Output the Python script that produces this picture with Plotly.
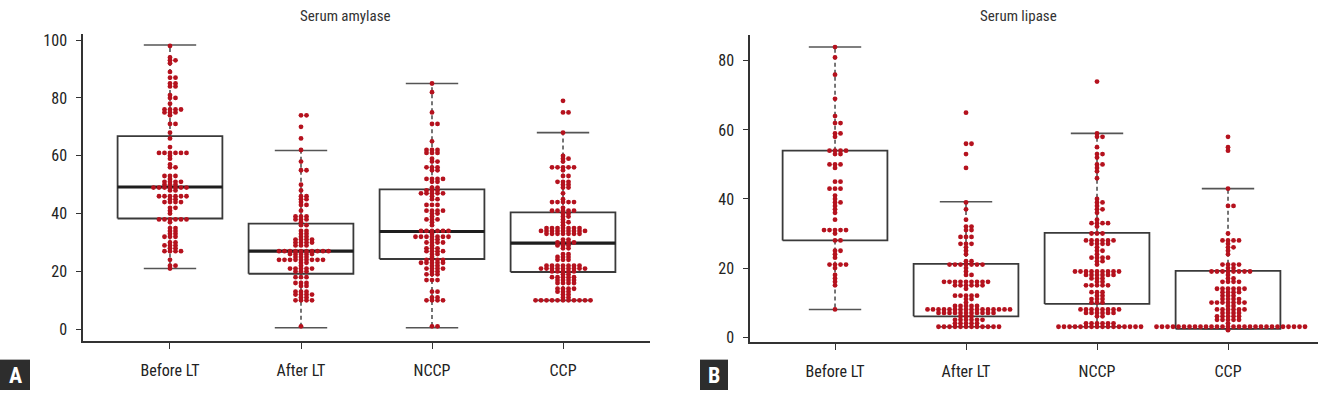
import math
import plotly.graph_objects as go

W, H = 1318, 395

categories = ["Before LT", "After LT", "NCCP", "CCP"]

# ---------------- Serum amylase (panel A) ----------------
amylase_before = [98, 94, 93, 93, 92, 89, 87, 87, 85, 85, 84, 84, 81, 80, 80, 78,
                  76, 76, 76, 76, 75, 75, 75, 74, 71, 71, 68, 66, 63,
                  61, 61, 61, 61, 61, 61, 60, 59, 57, 56, 56, 53, 53, 53, 52,
                  51, 51, 51, 51, 50, 50, 50, 49, 49, 49, 49, 49, 49, 49, 48, 48,
                  46, 46, 46, 46, 46, 46, 45, 45, 44, 44, 44, 44, 42, 42, 41, 40,
                  38, 38, 38, 38, 38, 38, 37, 35, 35, 34, 34, 33, 33, 32, 32, 32,
                  30, 30, 29, 29, 29, 28, 28, 27, 27, 27, 27, 24, 22, 22, 21]
amylase_after = [74, 74, 70, 66, 62, 58, 55, 55, 50, 48, 46, 46, 45, 45, 44, 43, 43,
                 41, 39, 39, 39, 38, 38, 38, 37, 36, 36, 34, 34, 33, 33, 32, 32,
                 31, 31, 31, 31, 30, 30, 30, 30, 29, 29, 29,
                 27, 27, 27, 27, 27, 27, 27, 27, 27, 27, 26, 26, 26, 26, 26,
                 25, 25, 25, 24, 24, 24, 24, 24, 24, 24, 24, 24, 23, 23, 22,
                 21, 21, 21, 21, 21, 20, 20, 20, 18, 18, 18, 16, 16, 16, 15, 15,
                 13, 13, 13, 12, 12, 12, 12, 11, 11, 10, 10, 10, 10, 1]
amylase_nccp = [85, 82, 75, 71, 71, 65, 62, 62, 62, 61, 61, 61, 59, 58, 58, 56, 56, 56,
                55, 55, 52, 52, 52, 52, 51, 51, 49, 49, 48, 48, 48, 47, 47, 47, 47, 47,
                46, 45, 45, 43, 43, 43, 41, 41, 41, 41, 40, 40, 39, 38, 38, 38, 37, 36,
                34, 34, 34, 34, 34, 34, 33, 32, 32, 32, 32, 32, 32, 32, 31, 31,
                30, 30, 30, 30, 29, 28, 28, 28, 27, 27, 27, 27, 26, 26, 25,
                24, 24, 24, 24, 23, 23, 23, 23, 23, 22, 22, 21, 21, 21, 21, 20, 20,
                19, 19, 19, 17, 17, 17, 13, 13, 11, 11, 10, 10, 10, 10, 1, 1]
amylase_ccp = [79, 75, 75, 68, 60, 59, 59, 58, 56, 56, 56, 56, 56, 55, 53, 53,
               51, 51, 51, 50, 50, 49, 49, 47, 45, 44, 44, 44, 44, 44, 42,
               41, 41, 41, 41, 41, 40, 40, 39, 39, 38, 37, 37, 36,
               35, 35, 35, 35, 35, 35, 35, 34, 34, 34, 34, 34, 34, 34, 34, 34,
               33, 33, 33, 33, 33, 33, 33, 31, 31, 30, 30, 30, 30, 29, 29, 29,
               28, 28, 26, 26, 25, 25, 25, 24, 24, 24,
               22, 22, 22, 22, 22, 22, 22, 21, 21, 21, 21, 21, 21, 21, 21, 21,
               20, 20, 20, 20, 20, 19, 19, 18, 18, 18, 18, 18, 17, 17, 17, 17,
               16, 16, 16, 16, 14, 14, 14, 14, 13, 13, 13, 12, 12, 11, 11,
               10, 10, 10, 10, 10, 10, 10, 10, 10, 10, 10]

amylase_lower = [21, 0.5, 0.5, 10]
amylase_q1 = [38.3, 19.2, 24.3, 19.8]
amylase_median = [49.2, 27, 33.8, 29.8]
amylase_q3 = [66.8, 36.5, 48.4, 40.4]
amylase_upper = [98.3, 61.8, 85, 68]

# ---------------- Serum lipase (panel B) ----------------
lipase_before = [84, 81, 76, 69, 64, 62, 62, 59, 59, 58, 54, 54, 54, 54, 53, 53,
                 50, 50, 50, 49, 45, 45, 43, 43, 43, 41, 40, 39, 39, 38, 37, 36, 34,
                 31, 31, 31, 31, 31, 30, 28, 28, 25, 25, 24, 23, 21, 21, 21, 21,
                 20, 18, 17, 16, 15, 8]
lipase_after = [65, 56, 56, 53, 49, 39, 37, 34, 32, 32, 31, 31, 29, 29, 29, 27, 27, 27,
                26, 25, 24, 22, 22, 21, 21, 21, 21, 21, 21, 21, 20, 19, 18, 18,
                16, 16, 16, 16, 16, 16, 16, 16, 16, 15, 15, 15, 15, 15, 15, 14,
                12, 12, 12, 12, 12, 11, 11, 10, 9, 9, 9, 9, 9,
                8, 8, 8, 8, 8, 8, 8, 8, 8, 8, 8, 8, 8, 8, 8, 8,
                7, 7, 7, 7, 7, 7, 7, 7, 7, 7, 7, 6, 6, 6, 5, 5, 5, 5, 5, 5,
                4, 4, 4, 4, 4, 3, 3, 3, 3, 3, 3, 3, 3, 3, 3, 3, 3]
lipase_nccp = [74, 59, 58, 58, 55, 53, 53, 52, 50, 50, 49, 48, 46, 40, 39, 39, 38,
               37, 37, 36, 34, 33, 33, 33, 33, 32, 30, 30, 30,
               28, 28, 28, 28, 28, 28, 27, 27, 27, 27, 26, 25, 25, 24, 23, 23, 23, 23,
               22, 22, 21, 19, 19, 19, 19, 19, 19, 19, 19, 19, 18, 18, 18, 18, 18, 18,
               17, 17, 17, 16, 16, 15, 15, 15, 15, 15, 13, 13, 13, 12, 12,
               11, 11, 11, 10, 10, 10, 8, 8, 8, 8, 8, 8, 8, 8, 7, 7, 7, 7, 7, 7, 6, 6,
               4, 4, 4, 4, 4, 4, 3, 3, 3, 3, 3, 3, 3, 3, 3, 3, 3, 3, 3, 3, 3, 3]
lipase_ccp = [58, 55, 54, 43, 38, 38, 30, 28, 28, 28, 28, 27, 26, 26, 25, 24,
              21, 21, 21, 21, 20, 20, 19, 19, 19, 19, 19, 19, 19, 19, 18, 17, 17,
              16, 16, 16, 16, 14, 14, 14, 14, 14, 14, 13, 13, 13, 13, 12, 12, 12,
              11, 11, 11, 11, 10, 10, 10, 10, 10, 10, 10, 9, 9, 8, 8, 8, 8, 8, 8,
              7, 7, 7, 7, 6, 6, 6, 6, 6, 5, 5, 5, 5, 5, 4,
              3, 3, 3, 3, 3, 3, 3, 3, 3, 3, 3, 3, 3, 3, 3, 3, 3, 3, 3, 3, 3, 3, 3, 3,
              3, 3, 3, 3, 2]

lipase_lower = [8, 3, 3, 2.4]
lipase_q1 = [28, 6, 9.6, 2.4]
lipase_q3 = [54, 21.2, 30.2, 19.2]
lipase_upper = [84, 39.2, 59, 43]

titles = ["Serum amylase", "Serum lipase"]
panel_letters = ["A", "B"]

# ---------------- layout geometry (pixels) ----------------
PANELS = {
    "A": dict(xpx=(83, 650), ypx=(32, 345), xr=(-0.664, 3.664), yr=(-4.07, 102.0)),
    "B": dict(xpx=(750, 1318), ypx=(33, 346), xr=(-0.649, 3.687), yr=(-1.42, 87.4)),
}
DOT_COLOR = "#B5121E"
BOX_HALF = 0.40
CAP_HALF = 0.20
FONT = "Liberation Sans Narrow, Roboto Condensed, Liberation Sans, sans-serif"


def px_per_unit(p):
    xs = (p["xpx"][1] - p["xpx"][0]) / (p["xr"][1] - p["xr"][0])
    ys = (p["ypx"][1] - p["ypx"][0]) / (p["yr"][1] - p["yr"][0])
    return xs, ys


def swarm(values, xs, ys, dx=5.5, dy=2.8):
    n = len(values)
    order = sorted(range(n), key=lambda k: values[k])
    placed = []
    out = [0.0] * n
    for k in order:
        y = values[k] * ys
        near = [(px, py) for px, py in placed if abs(py - y) < dy]
        cands = [0.0]
        for px, py in near:
            t = (py - y) / dy
            w = dx * math.sqrt(max(0.0, 1 - t * t))
            cands += [px + w, px - w]
        best = 0.0
        for c in sorted(cands, key=lambda c: (round(abs(c), 6), -c)):
            if all(((c - px) / dx) ** 2 + ((y - py) / dy) ** 2 >= 0.999 for px, py in near):
                best = c
                break
        placed.append((best, y))
        out[k] = best / xs
    return out


fig = go.Figure()


def add_panel(key, groups, lower, q1, q3, upper, median=None):
    p = PANELS[key]
    sfx = "" if key == "A" else "2"
    xa, ya = "x" + sfx, "y" + sfx
    xs, ys = px_per_unit(p)
    idx = list(range(len(categories)))

    wx, wy = [], []
    cx, cy = [], []
    bx, by = [], []
    for i in idx:
        wx += [i, i, None, i, i, None]
        wy += [q3[i], upper[i], None, q1[i], lower[i], None]
        cx += [i - CAP_HALF, i + CAP_HALF, None, i - CAP_HALF, i + CAP_HALF, None]
        cy += [upper[i], upper[i], None, lower[i], lower[i], None]
        bx += [i - BOX_HALF, i + BOX_HALF, i + BOX_HALF, i - BOX_HALF, i - BOX_HALF, None]
        by += [q1[i], q1[i], q3[i], q3[i], q1[i], None]
    fig.add_trace(go.Scatter(x=wx, y=wy, mode="lines", xaxis=xa, yaxis=ya,
                             line=dict(color="#1a1a1a", width=1.2, dash="4px,3px"),
                             hoverinfo="skip", showlegend=False))
    fig.add_trace(go.Scatter(x=cx, y=cy, mode="lines", xaxis=xa, yaxis=ya,
                             line=dict(color="#555555", width=1.6),
                             hoverinfo="skip", showlegend=False))
    fig.add_trace(go.Scatter(x=bx, y=by, mode="lines", xaxis=xa, yaxis=ya,
                             line=dict(color="#3a3a3a", width=1.8),
                             hoverinfo="skip", showlegend=False))
    if median is not None:
        mx, my = [], []
        for i in idx:
            mx += [i - BOX_HALF, i + BOX_HALF, None]
            my += [median[i], median[i], None]
        fig.add_trace(go.Scatter(x=mx, y=my, mode="lines", xaxis=xa, yaxis=ya,
                                 line=dict(color="#1e1e1e", width=3.2),
                                 hoverinfo="skip", showlegend=False))
    for i, vals in enumerate(groups):
        offs = swarm(vals, xs, ys)
        fig.add_trace(go.Scatter(x=[i + o for o in offs], y=vals, mode="markers",
                                 xaxis=xa, yaxis=ya,
                                 marker=dict(color=DOT_COLOR, size=4.8, line=dict(width=0)),
                                 name=categories[i], showlegend=False))


add_panel("A", [amylase_before, amylase_after, amylase_nccp, amylase_ccp],
          amylase_lower, amylase_q1, amylase_q3, amylase_upper, amylase_median)
add_panel("B", [lipase_before, lipase_after, lipase_nccp, lipase_ccp],
          lipase_lower, lipase_q1, lipase_q3, lipase_upper)


def xdom(p):
    return [p["xpx"][0] / W, p["xpx"][1] / W]


def ydom(p):
    return [1 - p["ypx"][1] / H, 1 - p["ypx"][0] / H]


axis_common = dict(showgrid=False, zeroline=False, showline=True, linecolor="#333333",
                   linewidth=1.5, ticks="outside", tickcolor="#333333",
                   tickfont=dict(family=FONT, size=16, color="#222222"))

pA, pB = PANELS["A"], PANELS["B"]
fig.update_layout(
    width=W, height=H, margin=dict(l=0, r=0, t=0, b=0),
    paper_bgcolor="white", plot_bgcolor="white", showlegend=False,
    xaxis=dict(domain=xdom(pA), range=list(pA["xr"]), anchor="y",
               tickvals=[0, 1, 2, 3], ticktext=categories, ticklen=6,
               ticklabelstandoff=8, **axis_common),
    yaxis=dict(domain=ydom(pA), range=list(pA["yr"]), anchor="x",
               tickvals=[0, 20, 40, 60, 80, 100], ticklen=5, ticklabelstandoff=6,
               **axis_common),
    xaxis2=dict(domain=xdom(pB), range=list(pB["xr"]), anchor="y2",
                tickvals=[0, 1, 2, 3], ticktext=categories, ticklen=6,
                ticklabelstandoff=8, **axis_common),
    yaxis2=dict(domain=ydom(pB), range=list(pB["yr"]), anchor="x2",
                tickvals=[0, 20, 40, 60, 80], ticklen=5, ticklabelstandoff=6,
                **axis_common),
)

# panel titles
for title, cx in zip(titles, [345, 1018]):
    fig.add_annotation(text=title, x=cx / W, y=1 - 13 / H, xref="paper", yref="paper",
                       showarrow=False, xanchor="center", yanchor="middle",
                       font=dict(family=FONT, size=15, color="#333333"))

# panel letters
for letter, (x0, x1) in zip(panel_letters, [(0, 30), (700, 728)]):
    fig.add_shape(type="rect", xref="paper", yref="paper",
                  x0=x0 / W, x1=x1 / W, y0=0, y1=1 - 364 / H,
                  fillcolor="#2d2d2d", line=dict(width=0))
    fig.add_annotation(text="<b>%s</b>" % letter, x=(x0 + x1) / 2 / W, y=1 - 380 / H,
                       xref="paper", yref="paper", showarrow=False,
                       xanchor="center", yanchor="middle",
                       font=dict(family=FONT, size=22, color="white"))

fig.write_html("out.html", config={"displayModeBar": False},
               post_script="document.body.style.margin='0';document.body.style.overflow='hidden';")
